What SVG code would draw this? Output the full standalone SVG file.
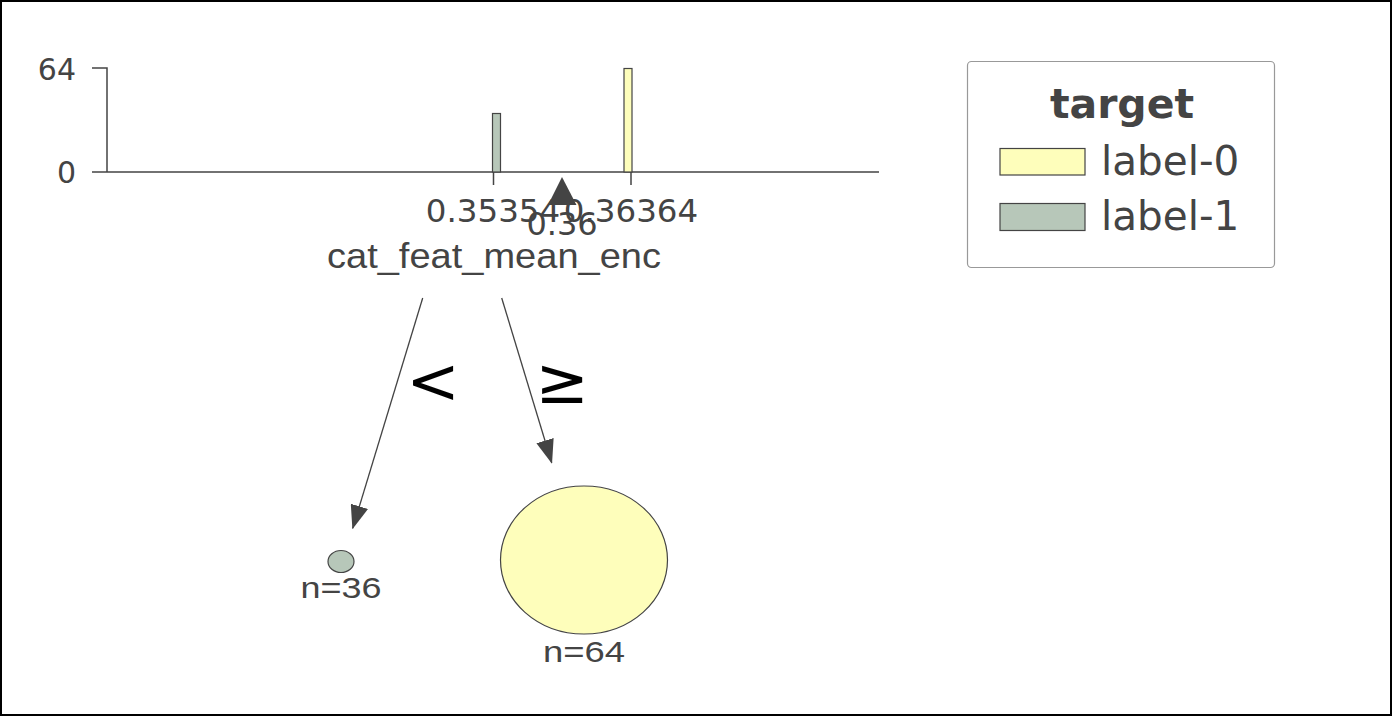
<svg xmlns="http://www.w3.org/2000/svg" width="1392" height="716" viewBox="0 0 1392 716">
<defs>
<style>
.t{font-family:"DejaVu Sans",sans-serif;fill:#444}
.a{font-family:"Liberation Sans",Arial,sans-serif;fill:#444}
.ax{stroke:#444;stroke-width:1.5;fill:none}
.edge{stroke:#444;stroke-width:1.3;fill:none}
.c0{fill:#fefebb;stroke:#444;stroke-width:1.2}
.c1{fill:#b7c7b9;stroke:#444;stroke-width:1.2}
</style>
<marker id="arr" markerUnits="userSpaceOnUse" markerWidth="24" markerHeight="18" viewBox="0 0 24 18" refX="23" refY="9" orient="auto">
<path d="M0,0 L24,9 L0,18 Z" fill="#444"/>
</marker>
</defs>
<rect x="0" y="0" width="1392" height="716" fill="#fff"/>
<rect x="1" y="1" width="1390" height="714" fill="none" stroke="#000" stroke-width="2"/>

<g id="split-node">
<path class="ax" d="M92,68 H107 V172 M92,172 H879"/>
<path class="ax" d="M493.5,172 V185 M631,172 V185"/>
<text class="t" x="76" y="80" font-size="30" text-anchor="end">64</text>
<text class="t" x="76" y="183" font-size="30" text-anchor="end">0</text>
<rect class="c1" x="492.5" y="113.5" width="8" height="58.5"/>
<rect class="c0" x="624" y="68.5" width="8" height="103.5"/>
<path d="M562,177 L576.5,205 L548,205 Z" fill="#444"/>
<text class="t" x="493" y="222" font-size="32.5" text-anchor="middle">0.35354</text>
<text class="t" x="631" y="222" font-size="32.5" text-anchor="middle">0.36364</text>
<text class="t" x="562" y="235" font-size="32" text-anchor="middle">0.36</text>
<text class="a" x="494" y="268" font-size="35" text-anchor="middle" textLength="334" lengthAdjust="spacingAndGlyphs">cat_feat_mean_enc</text>
</g>

<g id="legend">
<rect x="967.5" y="61.5" width="307" height="206" rx="4" fill="#fff" stroke="#999" stroke-width="1.2"/>
<text class="t" x="1122" y="118" font-size="41" font-weight="bold" text-anchor="middle">target</text>
<rect class="c0" x="1000" y="148.5" width="85" height="26.5"/>
<text class="t" x="1101" y="175" font-size="40.5">label-0</text>
<rect class="c1" x="1000" y="203.5" width="85" height="27"/>
<text class="t" x="1101" y="230" font-size="40.5">label-1</text>
</g>

<g id="connectors">
<line class="edge" x1="422.7" y1="298" x2="352.7" y2="528.3" marker-end="url(#arr)"/>
<line class="edge" x1="501.7" y1="298" x2="551.7" y2="462.7" marker-end="url(#arr)"/>
<text x="433" y="403" font-family="DejaVu Sans,sans-serif" font-size="64" fill="#000" text-anchor="middle">&lt;</text>
<text x="562" y="403" font-family="DejaVu Sans,sans-serif" font-size="64" fill="#000" text-anchor="middle">≥</text>
</g>

<g id="leaf-left">
<ellipse class="c1" cx="341" cy="561.5" rx="13" ry="11"/>
<text class="a" x="341" y="598" font-size="30" text-anchor="middle" textLength="81" lengthAdjust="spacingAndGlyphs">n=36</text>
</g>

<g id="leaf-right">
<ellipse class="c0" cx="584" cy="560" rx="83.5" ry="74"/>
<text class="a" x="584" y="662" font-size="30" text-anchor="middle" textLength="82" lengthAdjust="spacingAndGlyphs">n=64</text>
</g>
</svg>
